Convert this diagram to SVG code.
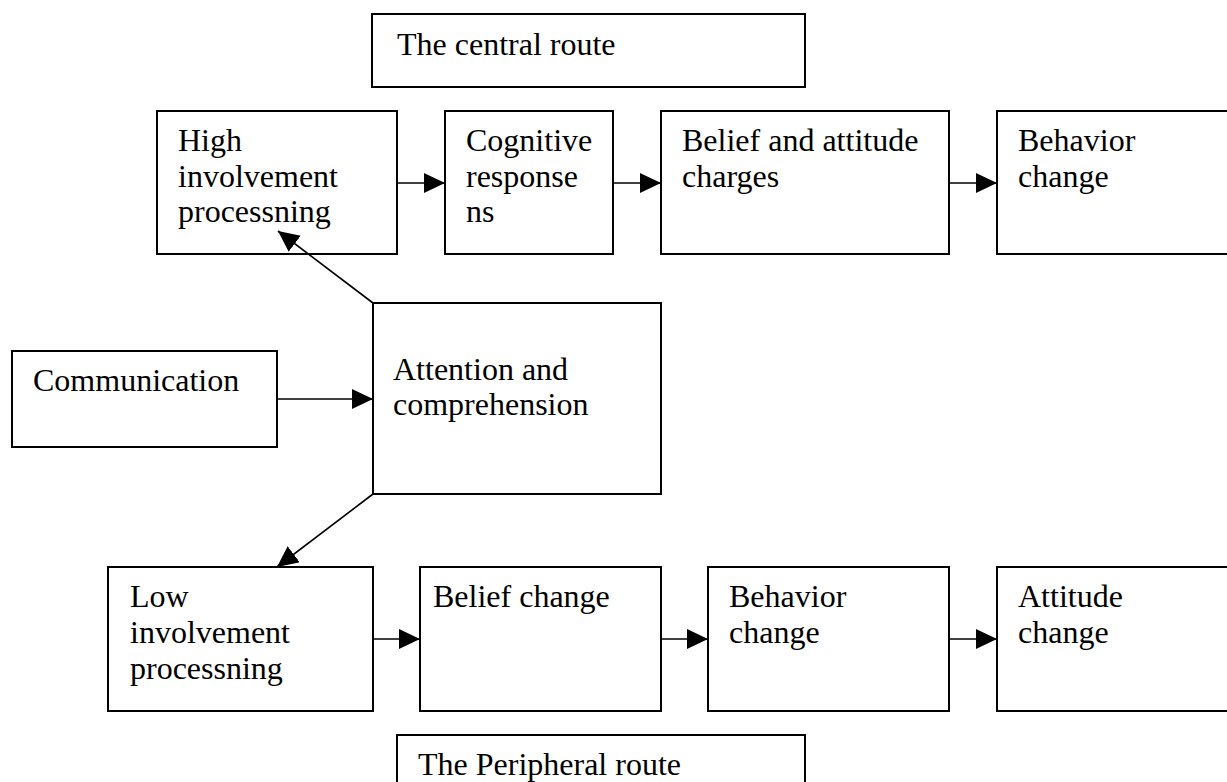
<svg xmlns="http://www.w3.org/2000/svg" width="1227" height="782" viewBox="0 0 1227 782">
<style>
rect.box{fill:#fff;stroke:#000;stroke-width:2}
text{font-family:"Liberation Serif","Times New Roman",serif;font-size:32px;fill:#000}
.conn line{stroke:#000;stroke-width:1.6}
</style>
<defs>
<marker id="ah" markerUnits="userSpaceOnUse" markerWidth="22" markerHeight="22" refX="21" refY="10" orient="auto">
<path d="M0,0 L21,10 L0,20 Z" fill="#000"/>
</marker>
</defs>
<rect width="1227" height="782" fill="#fff"/>
<g id="central-route"><rect class="box" x="372" y="14" width="433" height="73"/><text x="397" y="55">The central route</text></g>
<g id="high"><rect class="box" x="157" y="111" width="240" height="143"/><text x="178" y="151">High</text><text x="178" y="187">involvement</text><text x="178" y="222">processning</text></g>
<g id="cognitive"><rect class="box" x="445" y="111" width="168" height="143"/><text x="466" y="151">Cognitive</text><text x="466" y="187">response</text><text x="466" y="222">ns</text></g>
<g id="belief-attitude"><rect class="box" x="661" y="111" width="288" height="143"/><text x="682" y="151">Belief and attitude</text><text x="682" y="187">charges</text></g>
<g id="behavior-top"><rect class="box" x="997" y="111" width="260" height="143"/><text x="1018" y="151">Behavior</text><text x="1018" y="187">change</text></g>
<g id="communication"><rect class="box" x="12" y="351" width="265" height="96"/><text x="33" y="391">Communication</text></g>
<g id="attention"><rect class="box" x="373" y="303" width="288" height="191"/><text x="393" y="380">Attention and</text><text x="393" y="415">comprehension</text></g>
<g id="low"><rect class="box" x="108" y="567" width="265" height="144"/><text x="130" y="607">Low</text><text x="130" y="643">involvement</text><text x="130" y="679">processning</text></g>
<g id="belief-change"><rect class="box" x="420" y="567" width="241" height="144"/><text x="433" y="607">Belief change</text></g>
<g id="behavior-bottom"><rect class="box" x="708" y="567" width="241" height="144"/><text x="729" y="607">Behavior</text><text x="729" y="643">change</text></g>
<g id="attitude"><rect class="box" x="997" y="567" width="260" height="144"/><text x="1018" y="607">Attitude</text><text x="1018" y="643">change</text></g>
<g id="peripheral-route"><rect class="box" x="397" y="735" width="408" height="70"/><text x="418" y="775">The Peripheral route</text></g>
<g class="conn" id="connectors">
<line x1="397" y1="183" x2="445" y2="183" marker-end="url(#ah)"/>
<line x1="613" y1="183" x2="661" y2="183" marker-end="url(#ah)"/>
<line x1="949" y1="183" x2="997" y2="183" marker-end="url(#ah)"/>
<line x1="277" y1="399" x2="373" y2="399" marker-end="url(#ah)"/>
<line x1="373" y1="303" x2="278" y2="231" marker-end="url(#ah)"/>
<line x1="373" y1="494" x2="277" y2="567" marker-end="url(#ah)"/>
<line x1="373" y1="639" x2="420" y2="639" marker-end="url(#ah)"/>
<line x1="661" y1="639" x2="708" y2="639" marker-end="url(#ah)"/>
<line x1="949" y1="639" x2="997" y2="639" marker-end="url(#ah)"/>
</g>
</svg>
